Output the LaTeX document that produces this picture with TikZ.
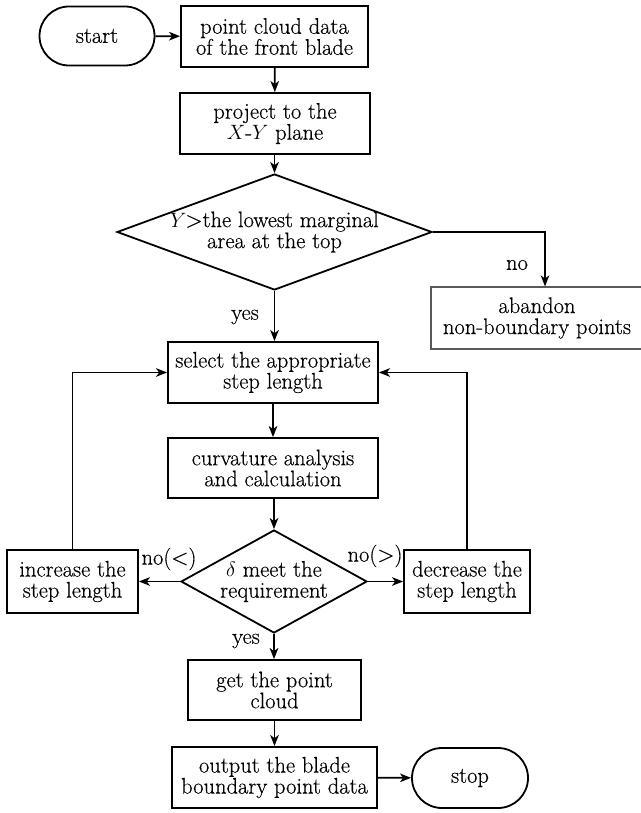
\documentclass[tikz,border=0pt]{standalone}
\usepackage{fontspec}
\setmainfont{Latin Modern Roman}[FakeBold=0.4]
\usetikzlibrary{shapes.geometric,shapes.misc,arrows.meta}
\begin{document}
\begin{tikzpicture}[x=1pt,y=-1pt,
  font=\fontsize{22.5}{21}\selectfont,
  box/.style={draw,line width=1.8pt,align=center,inner sep=0pt},
  term/.style={draw,line width=1.8pt,rounded rectangle,inner sep=0pt},
  dec/.style={draw,line width=1.8pt,diamond,inner sep=0pt},
  arr/.style={line width=1.8pt,-{Stealth[length=11pt,width=8.5pt,inset=3pt]}},
  lbl/.style={inner sep=0pt}]
\useasboundingbox (0,0) rectangle (640,813);
\node[term,minimum width=115pt,minimum height=59pt] (start) at (97,36) {start};
\node[box,minimum width=187pt,minimum height=61pt] (b1) at (274.5,36.5) {point cloud data\\of the front blade};
\node[box,minimum width=190pt,minimum height=61pt] (b2) at (275,123.5) {project to the\\$X$-$Y$ plane};
\node[dec,minimum width=315pt,minimum height=116pt] (d1) at (274.5,232) {};
\node[lbl,align=center] at (d1) {$Y$\kern-1pt\textgreater the lowest marginal\\area at the top};
\node[box,line width=1.1pt,draw=black!65,minimum width=212pt,minimum height=62pt] (ab) at (537,318) {abandon\\non-boundary points};
\node[box,minimum width=210pt,minimum height=61pt] (sel) at (273,372.5) {select the appropriate\\step length};
\node[box,minimum width=210pt,minimum height=60pt] (cur) at (273,468) {curvature analysis\\and calculation};
\node[dec,minimum width=186pt,minimum height=103pt] (d2) at (274,581.5) {};
\node[lbl,align=center] at (d2) {$\delta$ meet the\\requirement};
\node[box,minimum width=131pt,minimum height=63pt] (inc) at (72.5,581.5) {increase the\\step length};
\node[box,minimum width=126pt,minimum height=63pt] (decr) at (467,581.5) {decrease the\\step length};
\node[box,minimum width=173pt,minimum height=60pt] (get) at (274.5,690) {get the point\\cloud};
\node[box,minimum width=205pt,minimum height=61pt] (out) at (274.5,777.5) {output the blade\\boundary point data};
\node[term,minimum width=116pt,minimum height=60pt] (stop) at (470,778) {stop};
\draw[arr] (start) -- (b1);
\draw[arr] (b1) -- (b2);
\draw[arr] (b2.south -| d1.north) -- (d1.north);
\draw[arr] (d1.east) -| (ab.north -| 545,0);
\node[lbl] at (517,265) {no};
\draw[arr] (d1.south) -- (d1.south |- sel.north);
\node[lbl] at (245,317) {yes};
\draw[arr] (sel) -- (cur);
\draw[arr] (cur.south -| d2.north) -- (d2.north);
\draw[arr] (d2.west) -- (inc);
\node[lbl] at (169,559) {no(<)};
\draw[arr] (d2.east) -- (decr);
\node[lbl] at (375,556) {no(>)};
\draw[arr] (inc.north) |- (sel.west);
\draw[arr] (decr.north) |- (sel.east);
\draw[arr] (d2.south) -- (d2.south |- get.north);
\node[lbl] at (246,641) {yes};
\draw[arr] (get) -- (out);
\draw[arr] (out) -- (stop);
\end{tikzpicture}
\end{document}
